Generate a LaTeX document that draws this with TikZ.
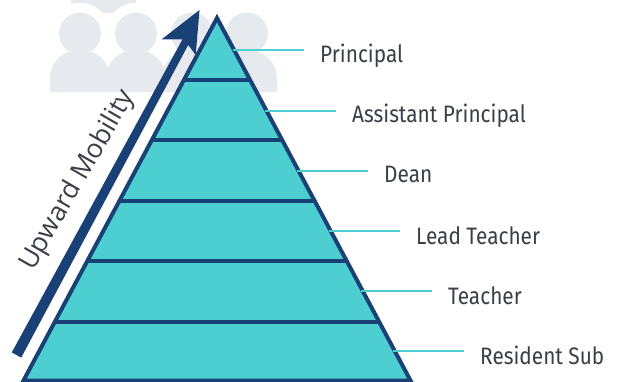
\documentclass[tikz,border=0pt]{standalone}
\usepackage{fontspec}
\setmainfont[FakeStretch=0.875]{Fira Sans}
\newfontfamily\arrowfont{Open Sans}
\definecolor{navy}{HTML}{1A4176}
\definecolor{teal}{HTML}{4DCFD2}
\definecolor{ghost}{HTML}{E6E9EE}
\definecolor{ink}{HTML}{3B3E47}
\tikzset{
  tierline/.style={draw=navy,line width=4pt},
  leader/.style={draw=teal,line width=2pt},
  tierlabel/.style={anchor=base west,text=ink,font=\fontsize{23.8}{26}\selectfont,inner sep=0pt},
  head/.style={fill=ghost,draw=none},
}
\newcommand{\personbody}[1]{%
  \fill[ghost,rounded corners=1.5pt] (#1-30,92) -- (#1-30,80) .. controls (#1-30,62) and (#1-17,50) .. (#1,50) .. controls (#1+17,50) and (#1+30,62) .. (#1+30,80) -- (#1+30,92) -- cycle;
  \fill[head] (#1,33.5) circle (21);}
\begin{document}
\begin{tikzpicture}[x=1pt,y=-1pt]
\useasboundingbox (0,0) rectangle (618,381);
% rear person
\begin{scope}
  \clip (0,0) rectangle (618,381);
  \fill[ghost] (71,0) rectangle (136,13);
  \fill[white] (80,34) circle (31) (136,34) circle (31);
\end{scope}
\personbody{80}
\personbody{136}
\personbody{192}
\personbody{247}
% arrow
\fill[navy] (11.8,352.4) -- (182.5,39.3) -- (161.7,39.3) -- (199.5,10) -- (195.7,55) -- (188.2,45) -- (21.2,357.6) -- cycle;
% pyramid
\coordinate (apex) at (217,18);
\coordinate (bl) at (23.5,380.5);
\coordinate (br) at (410.5,380.5);
\path[fill=teal,tierline,line join=miter,miter limit=10] (apex) -- (br) -- (bl) -- cycle;
\foreach \n/\y in {1/79.5,2/140,3/200.5,4/261,5/321.5}{
  \coordinate (l\n) at ({217-(\y-18)*0.5345},\y);
  \coordinate (r\n) at ({217+(\y-18)*0.5345},\y);
  \draw[tierline] (l\n) -- (r\n);
}
% leaders and labels
\foreach \n/\x/\y/\ty/\t in {a/233/50/62.7/Principal,b/265/110.5/122.7/Assistant Principal,c/297/170.5/182.5/Dean,d/329/231/244.5/Lead Teacher,e/361/291/304.5/Teacher,f/393/351/364.5/Resident Sub}{
  \coordinate (s\n) at (\x,\y);
  \coordinate (e\n) at (\x+71,\y);
  \draw[leader] (s\n) -- (e\n);
  \node[tierlabel] (t\n) at (\x+87,\ty) {\t};
}
\node[text=ink,font=\arrowfont\fontsize{26.5}{30}\selectfont,rotate=60,inner sep=0pt] (up) at (78,180.5) {Upward Mobility};
\end{tikzpicture}
\end{document}
